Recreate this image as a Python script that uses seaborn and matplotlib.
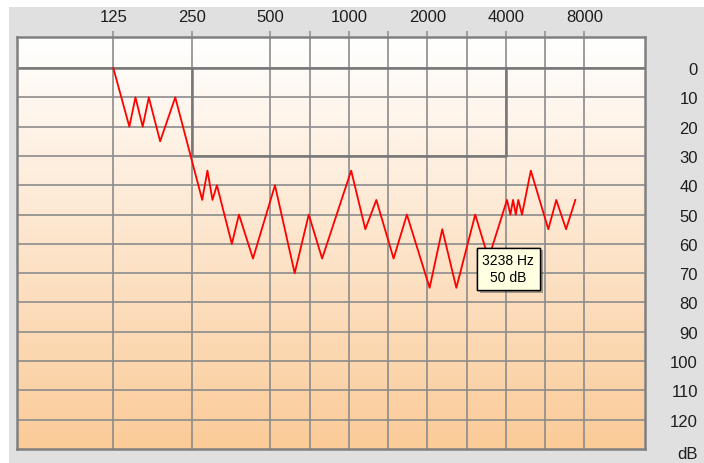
import numpy as np
import pandas as pd
import seaborn as sns
import matplotlib.pyplot as plt
import matplotlib.patheffects as pe
from matplotlib.patches import Rectangle
from matplotlib.ticker import FixedLocator, NullFormatter

# audiogram curve (Hz, dB HL)
freqs = [125, 144, 152, 162, 171, 189, 216, 274, 287, 300, 312, 356, 379, 429,
         521, 620, 702, 790, 1021, 1157, 1275, 1485, 1670, 2041, 2282, 2584,
         3053, 3433, 4042, 4163, 4264, 4369, 4466, 4615, 4988, 5822, 6245,
         6810, 7390]
levels = [0, 20, 10, 20, 10, 25, 10, 45, 35, 45, 40, 60, 50, 65, 40, 70, 50,
          65, 35, 55, 45, 65, 50, 75, 55, 75, 50, 65, 45, 50, 45, 50, 45, 50,
          35, 55, 45, 55, 45]

octave_freqs = [125, 250, 500, 1000, 2000, 4000, 8000]
half_freqs = [707, 1414, 2828, 5657]
db_ticks = list(range(0, 130, 10))

# normal hearing box
box_freqs = [250, 4000]
box_levels = [0, 30]

tip_freq, tip_db = 3238, 50

plt.rcParams['font.family'] = ['Liberation Sans', 'DejaVu Sans']

fig = plt.figure(figsize=(7.04, 4.64), dpi=100, facecolor='white')
# grey panel behind everything
fig.patches.append(Rectangle((9 / 704, 0), 1, 1 - 8 / 464, transform=fig.transFigure,
                             facecolor='#e0e0e0', edgecolor='none', zorder=-10))

pos = [17 / 704, 1 - 450 / 464, (645 - 17) / 704, (450 - 38) / 464]

# gradient background
bg = fig.add_axes(pos, zorder=0)
top = np.array([1.0, 1.0, 1.0])
bot = np.array([251, 203, 152]) / 255
t = np.linspace(0, 1, 256)[:, None]
grad = (1 - t) * top + t * bot
bg.imshow(grad[:, None, :], aspect='auto', extent=[0, 1, 0, 1], origin='upper')
bg.set_axis_off()

ax = fig.add_axes(pos, zorder=1)
ax.patch.set_alpha(0)
ax.set_xscale('log', base=2)
ax.set_xlim(125 * 2 ** -1.227, 125 * 2 ** 6.773)
ax.set_ylim(130, -10.6)

grid_c = '#8c8c8c'
dark_c = '#777777'

ax.set_xticks(octave_freqs, [str(f) for f in octave_freqs])
ax.xaxis.set_minor_locator(FixedLocator(half_freqs))
ax.xaxis.set_minor_formatter(NullFormatter())
ax.set_yticks(db_ticks, [str(d) for d in db_ticks])

ax.grid(True, which='both', axis='x', color=grid_c, lw=1.2)
ax.grid(True, which='major', axis='y', color=grid_c, lw=1.2)
ax.set_axisbelow(True)

ax.axhline(0, color=dark_c, lw=1.8, zorder=2)
ax.plot([box_freqs[0], box_freqs[0], box_freqs[1], box_freqs[1]],
        [box_levels[0], box_levels[1], box_levels[1], box_levels[0]],
        color=dark_c, lw=1.8, zorder=2)

df = pd.DataFrame({'freq': freqs, 'level': levels})
sns.lineplot(data=df, x='freq', y='level', ax=ax, color='red', lw=1.3,
             sort=False, zorder=3)
ax.set_xlabel('')
ax.set_ylabel('')

ax.xaxis.tick_top()
ax.tick_params(axis='x', which='both', top=True, bottom=False, labeltop=True,
               labelbottom=False, length=4.5, width=1.1, color=grid_c, pad=5,
               labelsize=12, labelcolor='#1e1e1e')
ax.yaxis.tick_right()
ax.tick_params(axis='y', which='both', left=False, right=False, length=0,
               pad=38, labelsize=12, labelcolor='#1e1e1e')
for lab in ax.get_yticklabels():
    lab.set_horizontalalignment('right')

for sp in ax.spines.values():
    sp.set_color('#808080')
    sp.set_linewidth(1.8)

fig.text(698 / 704, 1 - 455 / 464, 'dB', ha='right', va='center',
         fontsize=12, color='#1e1e1e')

# hover tooltip
tip = ax.annotate(f'{tip_freq} Hz\n{tip_db} dB', xy=(tip_freq, tip_db),
                  xytext=(19, -39), textcoords='offset points',
                  ha='center', va='center', fontsize=10, linespacing=1.3,
                  color='black', zorder=5,
                  bbox=dict(boxstyle='square,pad=0.4', facecolor='#ffffe1',
                            edgecolor='black', lw=1))
tip.get_bbox_patch().set_path_effects([
    pe.withSimplePatchShadow(offset=(2, -2), shadow_rgbFace='#555555', alpha=0.5),
    pe.Normal()])

fig.savefig('out.png', dpi=100, facecolor='white')
